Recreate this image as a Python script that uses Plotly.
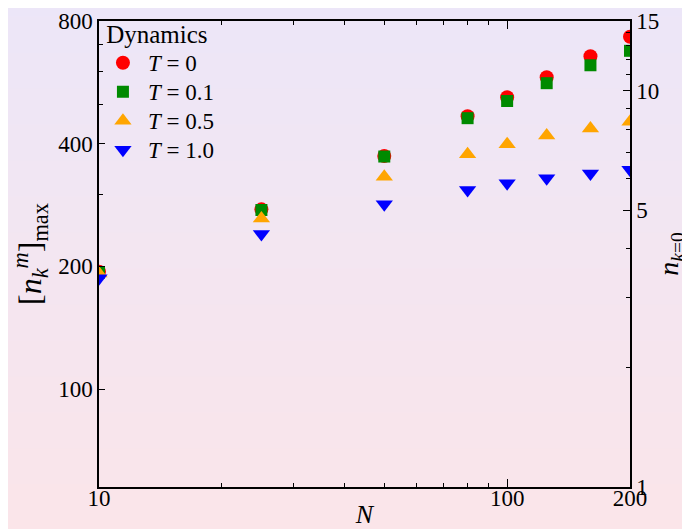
import math
import plotly.graph_objects as go

# ---- data ----
N = [10, 25, 50, 80, 100, 125, 160, 200]
nmax_T0 = [194, 276, 373, 467, 520, 582, 656, 732]
nmax_T01 = [193, 275, 372, 462, 509, 563, 623, 676]
nmax_T05 = [192, 262, 332, 377, 399, 419, 436, 453]
nmax_T10 = [187, 240, 284, 308, 320, 329, 338, 345]

series_names = ["<i>T</i> = 0", "<i>T</i> = 0.1", "<i>T</i> = 0.5", "<i>T</i> = 1.0"]
series_values = [nmax_T0, nmax_T01, nmax_T05, nmax_T10]

x_ticks = [10, 100, 200]
x_minor = [20, 30, 40, 50, 60, 70, 80, 90]
y_ticks = [100, 200, 400, 800]
y_minor = [300, 500, 600, 700]
y2_ticks = [1, 5, 10, 15]
y2_minor = [2, 3, 4, 6, 7, 8, 9, 11, 12, 13, 14]

# ---- styles ----
colors = ["#ff0000", "#008a00", "#ffa500", "#0000ff"]
symbols = ["circle", "square", "triangle-up", "triangle-down"]
sizes = [14, 12, 15, 15]
FONT = "Liberation Serif"

# the page body adds an 8px offset, so the figure is sized to fill the rest of the window
W, H = 682, 521
ML, MR, MT, MB = 91, 60, 13, 42
pw, ph = W - ML - MR, H - MT - MB

fig = go.Figure()
for name, vals, c, s, sz in zip(series_names, series_values, colors, symbols, sizes):
    fig.add_trace(go.Scatter(
        x=N, y=vals, mode="markers",
        name='<span style="font-size:23px">%s</span>' % name,
        marker=dict(color=c, symbol=s, size=sz, line=dict(width=0)),
    ))
# empty trace so the right-hand axis is drawn
fig.add_trace(go.Scatter(x=[], y=[], yaxis="y2", showlegend=False, hoverinfo="skip"))

# background gradient (lavender top -> pink bottom)
top = (236, 230, 248)
bot = (251, 229, 233)
nstrips = 120
x0 = -ML / pw - 0.02
x1 = 1 + MR / pw + 0.02
y0 = -MB / ph - 0.02
y1 = 1 + MT / ph + 0.02
shapes = []
for i in range(nstrips):
    t = (i + 0.5) / nstrips
    c = tuple(round(bot[k] + (top[k] - bot[k]) * t) for k in range(3))
    ya = y0 + (y1 - y0) * i / nstrips
    yb = y0 + (y1 - y0) * (i + 1) / nstrips + 0.002
    shapes.append(dict(type="rect", xref="paper", yref="paper", x0=x0, x1=x1,
                       y0=ya, y1=yb, layer="below", line=dict(width=0),
                       fillcolor="rgb(%d,%d,%d)" % c))

axis_common = dict(showgrid=False, zeroline=False, showline=True, linecolor="black",
                   linewidth=1.5, ticks="inside", tickcolor="black", tickwidth=1.2,
                   automargin=False,
                   tickfont=dict(family=FONT, size=23, color="black"))

fig.update_layout(
    width=W, height=H, autosize=False,
    margin=dict(l=ML, r=MR, t=MT, b=MB, pad=0, autoexpand=False),
    paper_bgcolor="rgba(0,0,0,0)", plot_bgcolor="rgba(0,0,0,0)",
    shapes=shapes,
    font=dict(family=FONT, size=23, color="black"),
    showlegend=True,
    legend=dict(x=-0.002, y=1.022, xanchor="left", yanchor="top", bgcolor="rgba(0,0,0,0)",
                font=dict(family=FONT, size=20, color="black"),
                itemwidth=40,
                title=dict(text="\u00a0Dynamics", font=dict(family=FONT, size=25, color="black")),
                tracegroupgap=0),
    xaxis=dict(type="log", range=[1, math.log10(200)], mirror="ticks",
               tickvals=x_ticks, ticktext=[str(v) for v in x_ticks], ticklen=8,
               ticklabelstandoff=-10,
               minor=dict(tickvals=x_minor, ticks="inside", ticklen=4, tickcolor="black", tickwidth=1.2),
               title=dict(text="<i>N</i>", font=dict(family=FONT, size=26), standoff=4),
               **axis_common),
    yaxis=dict(type="log", range=[math.log10(57.5), math.log10(800)],
               tickvals=y_ticks, ticktext=[str(v) for v in y_ticks], ticklen=6,
               minor=dict(tickvals=y_minor, ticks="inside", ticklen=4, tickcolor="black", tickwidth=1.2),
               title=dict(text="[<i>n</i><sub><i>k</i></sub><sup><i>m</i></sup>]<sub>max</sub>",
                          font=dict(family=FONT, size=32), standoff=8),
               **axis_common),
    yaxis2=dict(type="log", range=[0, math.log10(15)], overlaying="y", side="right",
                tickvals=y2_ticks, ticktext=[str(v) for v in y2_ticks], ticklen=7,
                minor=dict(tickvals=y2_minor, ticks="inside", ticklen=4, tickcolor="black", tickwidth=1.2),
                title=dict(text="<i>n</i><sub><i>k</i>=0</sub>",
                           font=dict(family=FONT, size=28), standoff=0),
                **axis_common),
)

fig.write_html("out.html")
